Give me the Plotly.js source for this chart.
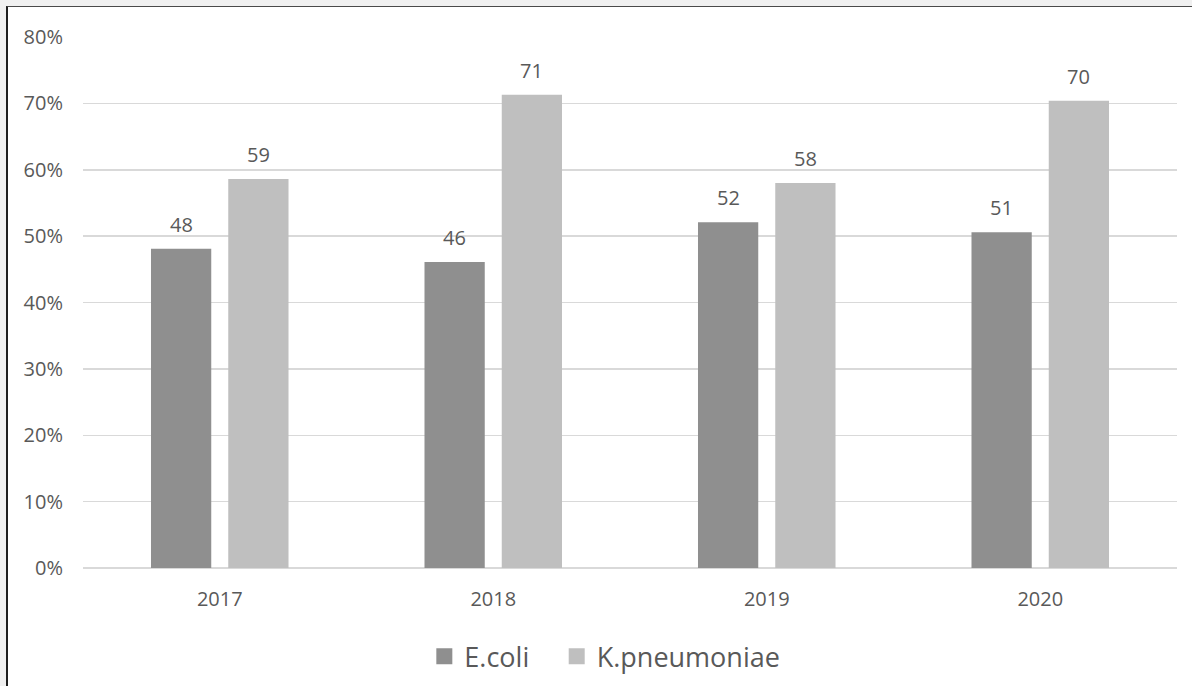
<!DOCTYPE html>
<html>
<head>
<meta charset="utf-8">
<script src="https://cdn.plot.ly/plotly-3.0.1.min.js"></script>
<style>
  html, body { margin: 0; padding: 0; background: #f0f0f0; width: 1192px; height: 686px; overflow: hidden; }
  #frame {
    position: absolute; left: 6px; top: 6px;
    width: 1186px; height: 680px;
    background: #ffffff;
    border-left: 2px solid #1e1e1e;
    border-top: 1px solid #4a4a4a;
  }
  #chart { width: 1186px; height: 680px; }
</style>
</head>
<body>
<div id="frame"><div id="chart"></div></div>
<script>
// Share of resistant isolates per year, in percent
const years = ['2017', '2018', '2019', '2020'];
const ecoli = [48.1, 46.1, 52.1, 50.6];
const kpneumoniae = [58.6, 71.3, 58.0, 70.4];
const yTickValues = [0, 10, 20, 30, 40, 50, 60, 70, 80];
const yTickLabels = ['0%', '10%', '20%', '30%', '40%', '50%', '60%', '70%', '80%'];

const series = [
  { name: 'E.coli', values: ecoli, color: '#8f8f8f', legend: 'legend' },
  { name: 'K.pneumoniae', values: kpneumoniae, color: '#bfbfbf', legend: 'legend2' }
];

const textColor = '#595959';
const fontFamily = '"Open Sans", "Noto Sans", sans-serif';
const font = size => ({ family: fontFamily, color: textColor, size: size });

const W = 1186, H = 680;
const margin = { l: 75, r: 17, t: 30, b: 119 };
const bargap = 0.435;

// bars (legend handled by the marker-only entries below)
const bars = series.map(s => ({
  type: 'bar',
  name: s.name,
  x: years,
  y: s.values,
  marker: { color: s.color },
  showlegend: false,
  hoverinfo: 'skip'
}));

// legend entries with larger square swatches; they draw no point
const legendEntries = series.map(s => ({
  type: 'scatter',
  mode: 'markers',
  name: s.name,
  legend: s.legend,
  x: [years[0]],
  y: [null],
  marker: { symbol: 'square', size: 16, color: s.color },
  showlegend: true,
  hoverinfo: 'skip'
}));

// value labels above each bar, centred on its slot in the group
const categoryWidth = (W - margin.l - margin.r) / years.length;
const slotWidth = (1 - bargap) * categoryWidth / series.length;
const annotations = [];
series.forEach((s, i) => {
  const shift = (i - (series.length - 1) / 2) * slotWidth;
  s.values.forEach((v, j) => {
    annotations.push({
      xref: 'x', yref: 'y',
      x: j, y: v,                      // category index on the x axis
      text: String(Math.round(v)),
      showarrow: false,
      xanchor: 'center', yanchor: 'bottom',
      xshift: shift, yshift: 9,
      font: font(20)
    });
  });
});

const legendStyle = x => ({
  orientation: 'h',
  xref: 'paper', x: x, xanchor: 'left',
  yref: 'container', y: 0.0444, yanchor: 'middle',
  font: font(27),
  itemsizing: 'trace',
  bgcolor: 'rgba(0,0,0,0)'
});

const layout = {
  width: W,
  height: H,
  margin: margin,
  paper_bgcolor: '#ffffff',
  plot_bgcolor: '#ffffff',
  font: font(20),
  barmode: 'group',
  bargap: bargap,
  bargroupgap: 0.22,
  showlegend: true,
  legend: legendStyle(0.312),
  legend2: legendStyle(0.433),
  annotations: annotations,
  xaxis: {
    type: 'category',
    categoryorder: 'array',
    categoryarray: years,
    range: [-0.5, years.length - 0.5],
    showgrid: false,
    showline: false,
    zeroline: false,
    ticks: '',
    ticklabelstandoff: 17,
    tickfont: font(20),
    automargin: false
  },
  yaxis: {
    range: [0, 80],
    tickvals: yTickValues,
    ticktext: yTickLabels,
    showgrid: true,
    gridcolor: '#d9d9d9',
    gridwidth: 1.5,
    zeroline: true,
    zerolinecolor: '#d9d9d9',
    zerolinewidth: 1.5,
    showline: false,
    ticks: '',
    ticklabelstandoff: 19,
    tickfont: font(20),
    automargin: false
  }
};

Plotly.newPlot('chart', bars.concat(legendEntries), layout, { displayModeBar: false, staticPlot: true });
</script>
</body>
</html>
